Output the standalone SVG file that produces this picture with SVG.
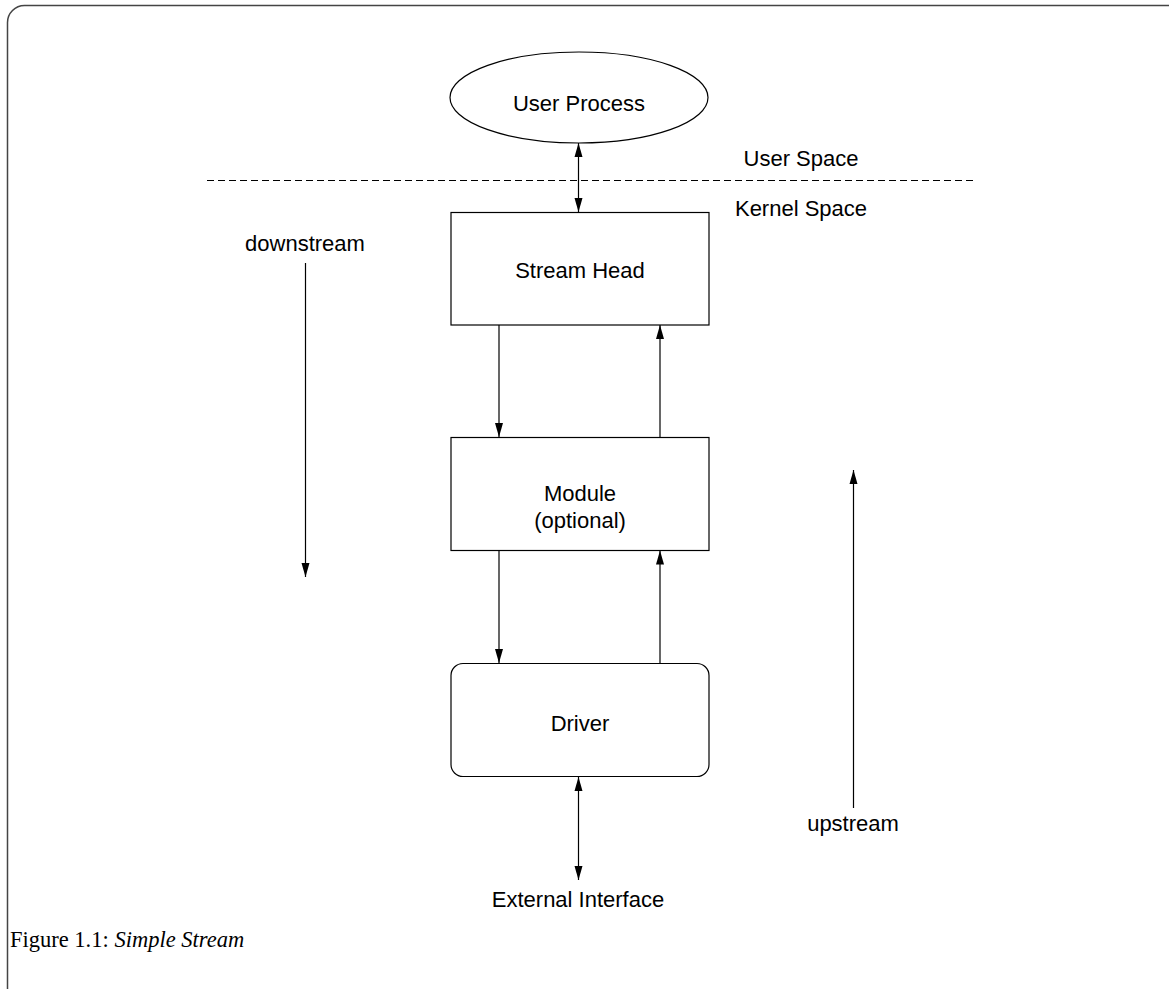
<svg xmlns="http://www.w3.org/2000/svg" width="1169" height="989" viewBox="0 0 1169 989">
  <style>
    .shape { fill: #fff; stroke: #000; stroke-width: 1.2; }
    .lbl { font-family: "Liberation Sans", Arial, sans-serif; font-size: 22px; fill: #000; text-anchor: middle; }
    .wire { stroke: #000; stroke-width: 1.2; fill: none; }
    .cap { font-family: "Liberation Serif", "Times New Roman", serif; font-size: 22.5px; fill: #000; }
  </style>
  <defs>
    <marker id="ah" viewBox="0 0 14 16" refX="14" refY="8" markerWidth="14" markerHeight="16" markerUnits="userSpaceOnUse" orient="auto-start-reverse">
      <path d="M0,4 L14,8 L0,12 Z" fill="#000"/>
    </marker>
  </defs>
  <rect width="1169" height="989" fill="#fff"/>

  <!-- page frame -->
  <rect x="7.5" y="5.5" width="1180" height="1000" rx="17" ry="17" fill="none" stroke="#444" stroke-width="1.5"/>

  <g id="user-process">
    <ellipse class="shape" cx="579" cy="97.5" rx="129" ry="45.5"/>
    <text class="lbl" x="579" y="111">User Process</text>
  </g>

  <g id="space-divider">
    <line x1="207" y1="180.5" x2="975" y2="180.5" stroke="#000" stroke-width="1" stroke-dasharray="7,4"/>
    <text class="lbl" x="801" y="166">User Space</text>
    <text class="lbl" x="801" y="216">Kernel Space</text>
  </g>

  <g id="stream-head">
    <rect class="shape" x="451" y="212.5" width="258" height="112.5"/>
    <text class="lbl" x="580" y="278">Stream Head</text>
  </g>

  <g id="module">
    <rect class="shape" x="451" y="437.5" width="258" height="113"/>
    <text class="lbl" x="580" y="501">Module</text>
    <text class="lbl" x="580" y="528">(optional)</text>
  </g>

  <g id="driver">
    <rect class="shape" x="451" y="663.5" width="258" height="113" rx="12" ry="12"/>
    <text class="lbl" x="580" y="731">Driver</text>
  </g>

  <g id="external-interface">
    <text class="lbl" x="578" y="907">External Interface</text>
  </g>

  <g id="downstream">
    <text class="lbl" x="305" y="251">downstream</text>
  </g>

  <g id="upstream">
    <text class="lbl" x="853" y="831">upstream</text>
  </g>

  <g id="connectors">
    <line class="wire" x1="578.5" y1="143" x2="578.5" y2="212" marker-start="url(#ah)" marker-end="url(#ah)"/>
    <line class="wire" x1="499" y1="325" x2="499" y2="437" marker-end="url(#ah)"/>
    <line class="wire" x1="660" y1="437" x2="660" y2="325" marker-end="url(#ah)"/>
    <line class="wire" x1="499" y1="550.5" x2="499" y2="663" marker-end="url(#ah)"/>
    <line class="wire" x1="660" y1="663" x2="660" y2="550.5" marker-end="url(#ah)"/>
    <line class="wire" x1="578.5" y1="777" x2="578.5" y2="880" marker-start="url(#ah)" marker-end="url(#ah)"/>
    <line class="wire" x1="305.5" y1="263" x2="305.5" y2="577" marker-end="url(#ah)"/>
    <line class="wire" x1="853.5" y1="808" x2="853.5" y2="470" marker-end="url(#ah)"/>
  </g>

  <g id="caption">
    <text class="cap" x="10" y="947">Figure 1.1:  <tspan font-style="italic">Simple Stream</tspan></text>
  </g>
</svg>
